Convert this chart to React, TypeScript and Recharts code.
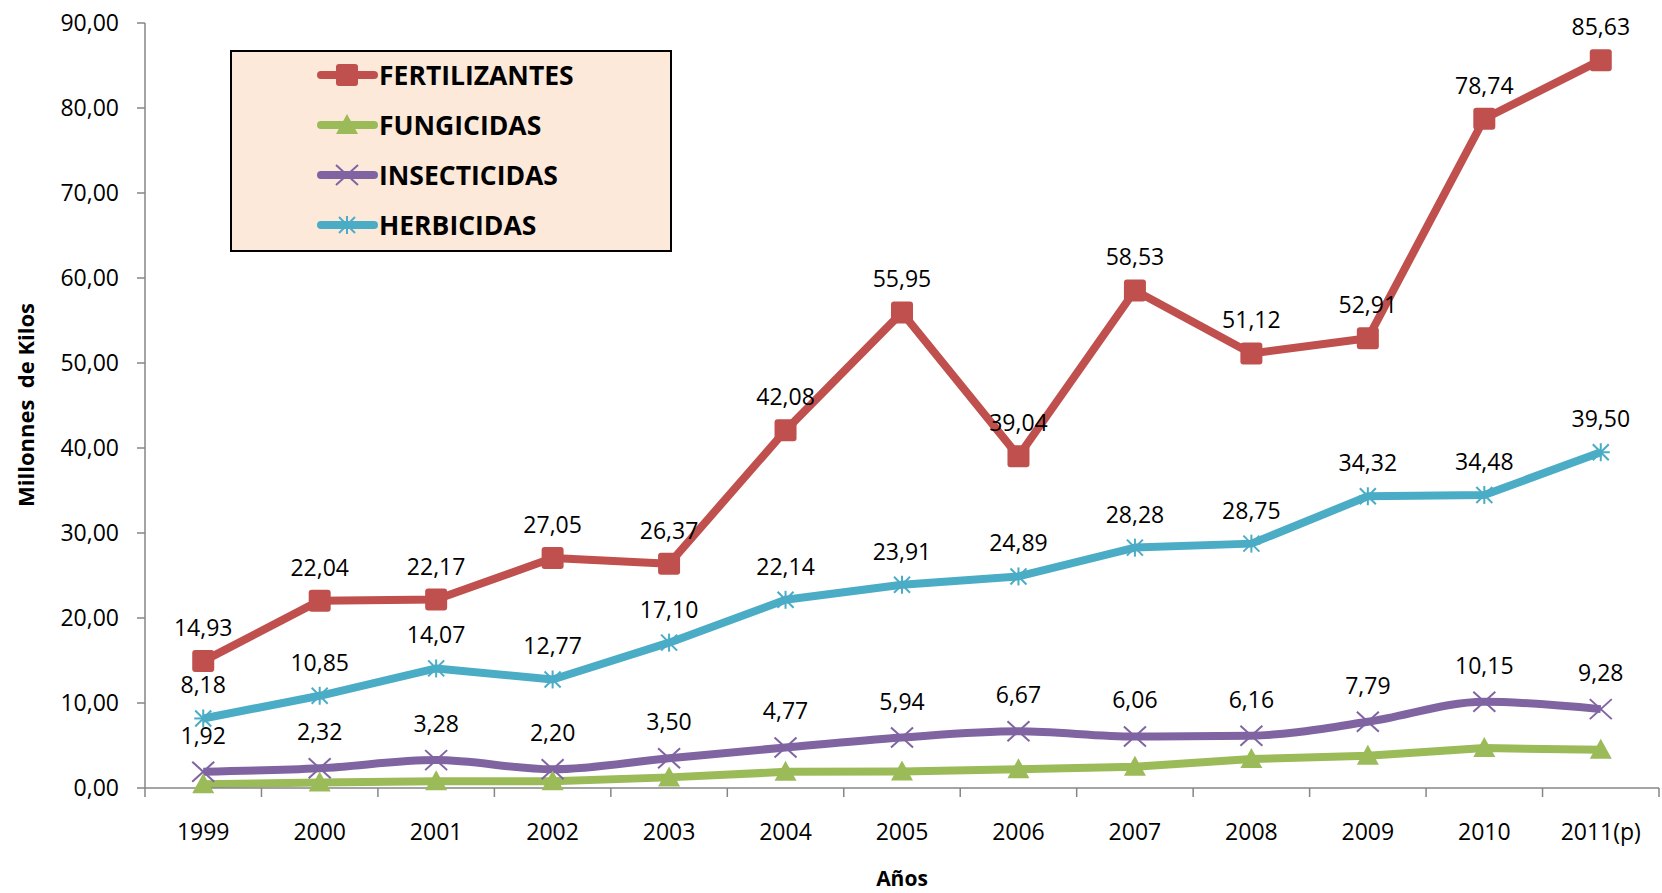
import React from "react";
import {
  LineChart,
  Line,
  XAxis,
  YAxis,
  LabelList,
} from "recharts";

const years = [
  "1999", "2000", "2001", "2002", "2003", "2004", "2005",
  "2006", "2007", "2008", "2009", "2010", "2011(p)",
];
const fertilizantes = [14.93, 22.04, 22.17, 27.05, 26.37, 42.08, 55.95, 39.04, 58.53, 51.12, 52.91, 78.74, 85.63];
const fungicidas = [0.45, 0.65, 0.8, 0.8, 1.25, 1.9, 1.95, 2.2, 2.5, 3.4, 3.8, 4.7, 4.5];
const insecticidas = [1.92, 2.32, 3.28, 2.2, 3.5, 4.77, 5.94, 6.67, 6.06, 6.16, 7.79, 10.15, 9.28];
const herbicidas = [8.18, 10.85, 14.07, 12.77, 17.1, 22.14, 23.91, 24.89, 28.28, 28.75, 34.32, 34.48, 39.5];
const yTicks = [0, 10, 20, 30, 40, 50, 60, 70, 80, 90];

const data = years.map((year, i) => ({
  year,
  fert: fertilizantes[i],
  fung: fungicidas[i],
  insec: insecticidas[i],
  herb: herbicidas[i],
}));

type Kind = "square" | "triangle" | "x" | "star";

const series: { key: string; name: string; color: string; marker: Kind; labels: boolean; labelOffset: number; curve: "linear" | "monotone" }[] = [
  { key: "fert", name: "FERTILIZANTES", color: "#C0504D", marker: "square", labels: true, labelOffset: 25, curve: "linear" },
  { key: "fung", name: "FUNGICIDAS", color: "#9BBB59", marker: "triangle", labels: false, labelOffset: 0, curve: "linear" },
  { key: "insec", name: "INSECTICIDAS", color: "#8064A2", marker: "x", labels: true, labelOffset: 28, curve: "monotone" },
  { key: "herb", name: "HERBICIDAS", color: "#4BACC6", marker: "star", labels: true, labelOffset: 25, curve: "linear" },
];

const W = 1662;
const H = 893;
const Y_AXIS_W = 145;
const X_AXIS_H = 105;
const MARGIN = { top: 23, right: 3, bottom: 0, left: 0 };
const BAND = (W - Y_AXIS_W - MARGIN.right) / years.length;
const FONT = "'Open Sans', 'Noto Sans', sans-serif";
const AXIS = "#868686";

const fmt = (v: number) => v.toFixed(2).replace(".", ",");

function Marker({ kind, cx, cy, color }: { kind: Kind; cx: number; cy: number; color: string }) {
  switch (kind) {
    case "square":
      return <rect x={cx - 11} y={cy - 11} width={22} height={22} rx={3} fill={color} />;
    case "triangle":
      return <path d={`M${cx},${cy - 11}L${cx + 11},${cy + 9}L${cx - 11},${cy + 9}Z`} fill={color} />;
    case "x":
      return (
        <g stroke={color} strokeWidth={2}>
          <line x1={cx - 11} y1={cy - 10} x2={cx + 11} y2={cy + 10} />
          <line x1={cx - 11} y1={cy + 10} x2={cx + 11} y2={cy - 10} />
        </g>
      );
    default:
      return (
        <g stroke={color} strokeWidth={2}>
          <line x1={cx} y1={cy - 9} x2={cx} y2={cy + 9} />
          <line x1={cx - 8} y1={cy - 8} x2={cx + 8} y2={cy + 8} />
          <line x1={cx - 8} y1={cy + 8} x2={cx + 8} y2={cy - 8} />
          <line x1={cx - 9} y1={cy} x2={cx + 9} y2={cy} />
        </g>
      );
  }
}

function XTick(props: any) {
  const { x, y, payload, index } = props;
  const half = BAND / 2;
  return (
    <g>
      <line x1={x - half} y1={y} x2={x - half} y2={y + 9} stroke={AXIS} strokeWidth={1.5} />
      {index === years.length - 1 && (
        <line x1={x + half} y1={y} x2={x + half} y2={y + 9} stroke={AXIS} strokeWidth={1.5} />
      )}
      <text x={x} y={y + 52} textAnchor="middle" fontSize={23} fill="#000" fontFamily={FONT}>
        {payload.value}
      </text>
    </g>
  );
}

function LegendBox() {
  return (
    <div
      style={{
        position: "absolute",
        left: 230,
        top: 50,
        width: 442,
        height: 202,
        boxSizing: "border-box",
        border: "2px solid #000",
        background: "#FDE9D9",
        fontFamily: FONT,
      }}
    >
      {series.map((s, i) => (
        <div key={s.key} style={{ position: "absolute", left: 0, top: 23 + i * 50 - 13, height: 26, width: 430 }}>
          <svg width={62} height={26} style={{ position: "absolute", left: 85, top: 0 }}>
            <line x1={4} y1={13} x2={57} y2={13} stroke={s.color} strokeWidth={8} strokeLinecap="round" />
            <Marker kind={s.marker} cx={30} cy={13} color={s.color} />
          </svg>
          <span
            style={{
              position: "absolute",
              left: 147,
              top: 0,
              lineHeight: "26px",
              fontSize: 26.5,
              fontWeight: 700,
              color: "#000",
              whiteSpace: "nowrap",
            }}
          >
            {s.name}
          </span>
        </div>
      ))}
    </div>
  );
}

export default function App() {
  return (
    <div style={{ position: "absolute", left: 0, top: 0, width: W, height: H, background: "#fff", fontFamily: FONT }}>
      <LineChart width={W} height={H} data={data} margin={MARGIN}>
        <XAxis
          dataKey="year"
          height={X_AXIS_H}
          interval={0}
          padding={{ left: BAND / 2, right: BAND / 2 }}
          tickLine={false}
          tickSize={0}
          tickMargin={0}
          stroke={AXIS}
          strokeWidth={1.5}
          tick={<XTick />}
          label={{
            content: () => (
              <text
                x={Y_AXIS_W + (W - Y_AXIS_W - MARGIN.right) / 2}
                y={878}
                textAnchor="middle"
                dominantBaseline="central"
                fontSize={21}
                fontWeight={700}
                fontFamily={FONT}
                fill="#000"
              >
                Años
              </text>
            ),
          }}
        />
        <YAxis
          width={Y_AXIS_W}
          domain={[0, 90]}
          ticks={yTicks}
          tickFormatter={fmt}
          tickSize={8}
          tickMargin={18}
          stroke={AXIS}
          strokeWidth={1.5}
          tick={{ fill: "#000", fontSize: 23, fontFamily: FONT }}
          label={{
            content: () => (
              <text
                x={25}
                y={405}
                transform="rotate(-90 25 405)"
                textAnchor="middle"
                dominantBaseline="central"
                fontSize={22}
                fontWeight={700}
                fontFamily={FONT}
                fill="#000"
                style={{ whiteSpace: "pre" }}
              >
                Millonnes  de Kilos
              </text>
            ),
          }}
        />
        {series.map((s) => (
          <Line
            key={s.key}
            dataKey={s.key}
            name={s.name}
            type={s.curve}
            stroke={s.color}
            strokeWidth={8}
            strokeLinejoin="round"
            isAnimationActive={false}
            activeDot={false}
            dot={(p: any) => (
              <g key={`${s.key}-${p.index}`}>
                <Marker kind={s.marker} cx={p.cx} cy={p.cy} color={s.color} />
              </g>
            )}
          >
            {s.labels && (
              <LabelList
                dataKey={s.key}
                position="top"
                offset={s.labelOffset}
                formatter={(v: any) => fmt(Number(v))}
                fill="#000"
                fontSize={23}
                fontFamily={FONT}
              />
            )}
          </Line>
        ))}
      </LineChart>
      <LegendBox />
    </div>
  );
}
